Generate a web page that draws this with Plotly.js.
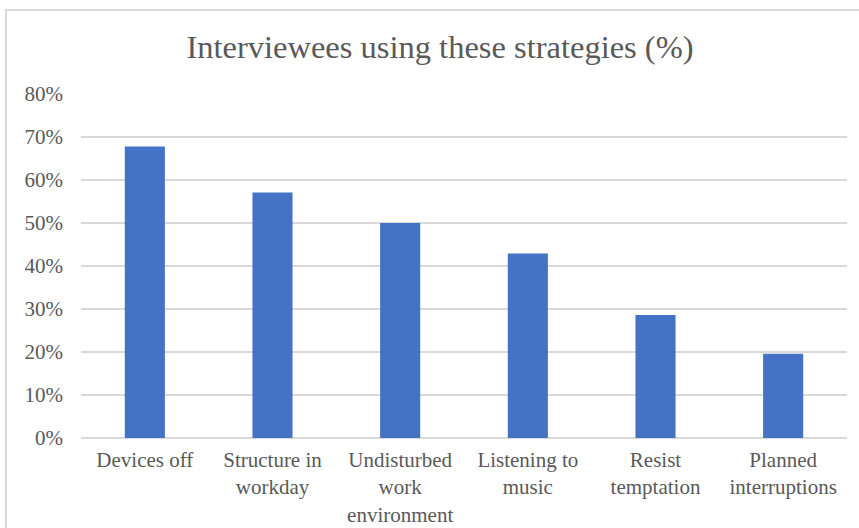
<!DOCTYPE html>
<html>
<head>
<meta charset="utf-8">
<script src="https://cdn.plot.ly/plotly-3.0.1.min.js"></script>
<style>
html,body{margin:0;padding:0;background:#fff;}
#chart{width:859px;height:528px;}
</style>
</head>
<body>
<div id="chart"></div>
<script>
var categories = ["Devices off", "Structure in<br>workday", "Undisturbed<br>work<br>environment", "Listening to<br>music", "Resist<br>temptation", "Planned<br>interruptions"];
var values = [0.678, 0.571, 0.500, 0.429, 0.286, 0.196];
var yTickVals = [0, 0.1, 0.2, 0.3, 0.4, 0.5, 0.6, 0.7, 0.8];
var yTickText = ["0%", "10%", "20%", "30%", "40%", "50%", "60%", "70%", "80%"];

var W = 859, H = 528;
var ml = 81, mr = 12, mt = 94, mb = 90;
var pw = W - ml - mr, ph = H - mt - mb;
function px(x){ return (x - ml) / pw; }
function py(y){ return (H - mb - y) / ph; }
var SERIF = '"Liberation Serif", serif';

var trace = {
  type: "bar",
  x: categories,
  y: values,
  marker: {color: "#4472C4", line: {width: 0}},
  hoverinfo: "none"
};

var layout = {
  width: W, height: H,
  margin: {l: ml, r: mr, t: mt, b: mb, pad: 0},
  paper_bgcolor: "#fff",
  plot_bgcolor: "#fff",
  showlegend: false,
  bargap: 0.686,
  font: {family: SERIF, color: "#595959"},
  title: {
    text: "Interviewees using these strategies (%)",
    font: {family: SERIF, size: 32.5, color: "#595959"},
    x: 440 / W, xref: "container", xanchor: "center",
    y: 1 - 47 / H, yref: "container", yanchor: "middle"
  },
  xaxis: {
    type: "category",
    showgrid: false,
    showline: false,
    zeroline: false,
    ticks: "",
    tickfont: {size: 21, color: "#595959", family: SERIF},
    ticklabelstandoff: 7
  },
  yaxis: {
    range: [0, 0.8],
    tickvals: yTickVals,
    ticktext: yTickText,
    showgrid: true,
    gridcolor: "#d9d9d9",
    gridwidth: 1.5,
    zeroline: true,
    zerolinecolor: "#d9d9d9",
    zerolinewidth: 1.5,
    showline: false,
    ticks: "",
    tickfont: {size: 21, color: "#595959", family: SERIF},
    ticklabelstandoff: 17
  },
  shapes: [{
    type: "rect", xref: "paper", yref: "paper",
    x0: px(6), x1: px(900), y0: py(600), y1: py(10),
    line: {color: "#d9d9d9", width: 2},
    fillcolor: "rgba(0,0,0,0)",
    layer: "below"
  }]
};

Plotly.newPlot("chart", [trace], layout, {displayModeBar: false, staticPlot: true});
</script>
</body>
</html>
